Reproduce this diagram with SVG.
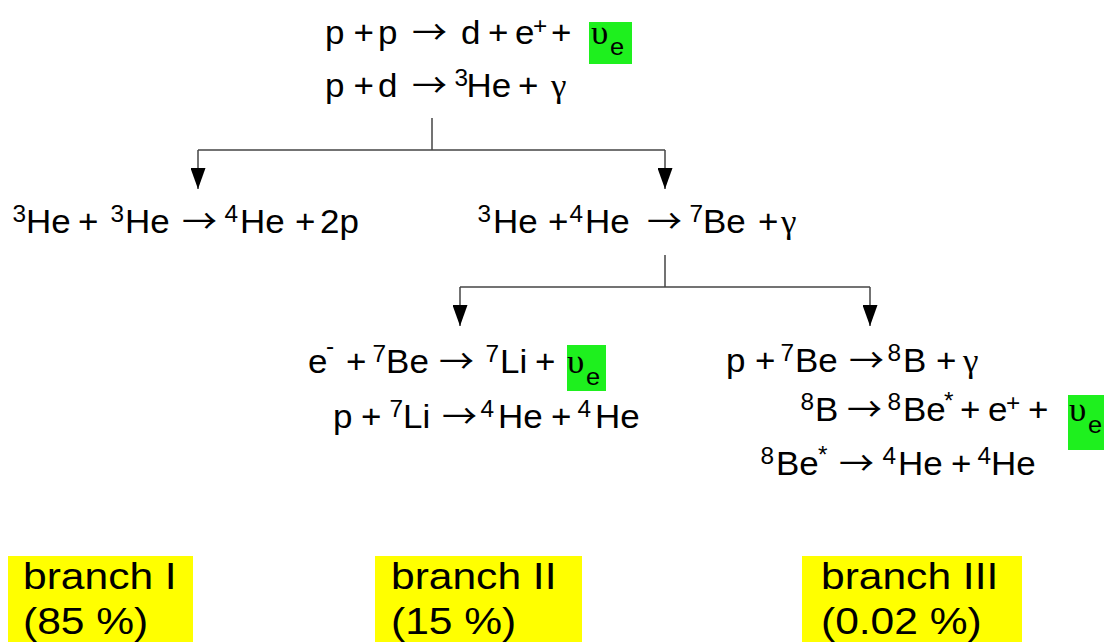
<svg xmlns="http://www.w3.org/2000/svg" width="1104" height="642" viewBox="0 0 1104 642">
<style>
  .eq { font-family: "Liberation Sans", Arial, sans-serif; font-size: 33px; fill: #000; }
  .sup { font-size: 23px; }
  .sub { font-size: 24px; }
  .ar { font-family: "Noto Sans CJK SC", "DejaVu Sans", sans-serif; }
  .gr { font-family: "Liberation Serif", "DejaVu Serif", serif; }
  .br { font-family: "Liberation Sans", Arial, sans-serif; font-size: 37px; fill: #000; }
  .nu { fill: #1ef01e; }
  .yl { fill: #ffff00; }
  .ln { fill: none; stroke: #444; stroke-width: 1.5; }
</style>
<defs>
  <marker id="ah" viewBox="0 0 21 15" markerWidth="21" markerHeight="15" refX="21" refY="7.5" orient="auto" markerUnits="userSpaceOnUse">
    <path d="M0,0 L21,7.5 L0,15 z" fill="#000"/>
  </marker>
</defs>
<rect width="1104" height="642" fill="#fff"/>

<g id="connectors">
  <path class="ln" d="M432,118 V150"/>
  <path class="ln" d="M198,150 H665"/>
  <path class="ln" d="M198,150 V189" marker-end="url(#ah)"/>
  <path class="ln" d="M665,150 V189" marker-end="url(#ah)"/>
  <path class="ln" d="M665,255 V287"/>
  <path class="ln" d="M460,287 H870"/>
  <path class="ln" d="M460,287 V326" marker-end="url(#ah)"/>
  <path class="ln" d="M870,287 V326" marker-end="url(#ah)"/>
</g>

<g id="node-pp">
  <rect class="nu" x="589" y="22" width="43" height="42"/>
  <text class="eq" transform="scale(1.06,1)">
    <tspan x="306.6" y="44">p</tspan><tspan x="333.5" y="44">+</tspan><tspan x="356.6" y="44">p</tspan><tspan class="ar" x="388.7" y="44">→</tspan><tspan x="434.9" y="44">d</tspan><tspan x="460.4" y="44">+</tspan><tspan x="485.8" y="44">e</tspan><tspan class="sup" x="502.8" y="34">+</tspan><tspan x="519.8" y="44">+</tspan><tspan class="gr" x="557.5" y="44">υ</tspan><tspan class="sub" x="575.5" y="55">e</tspan>
  </text>
  <text class="eq" transform="scale(1.06,1)">
    <tspan x="306.6" y="97">p</tspan><tspan x="333.5" y="97">+</tspan><tspan x="356.6" y="97">d</tspan><tspan class="ar" x="388.7" y="97">→</tspan><tspan class="sup" x="428.7" y="86">3</tspan><tspan x="440.1" y="97">He</tspan><tspan x="488.7" y="97">+</tspan><tspan class="gr" x="519.8" y="97">γ</tspan>
  </text>
</g>

<g id="node-he3he3">
  <text class="eq" transform="scale(1.06,1)">
    <tspan class="sup" x="11.8" y="222">3</tspan><tspan x="24.5" y="233">He</tspan><tspan x="73.6" y="233">+</tspan><tspan class="sup" x="104.2" y="222">3</tspan><tspan x="117.9" y="233">He</tspan><tspan class="ar" x="171.7" y="233">→</tspan><tspan class="sup" x="211.8" y="222">4</tspan><tspan x="226.4" y="233">He</tspan><tspan x="278.3" y="233">+</tspan><tspan x="301.9" y="233">2p</tspan>
  </text>
</g>

<g id="node-he3he4">
  <text class="eq" transform="scale(1.06,1)">
    <tspan class="sup" x="450.4" y="222">3</tspan><tspan x="465.1" y="233">He</tspan><tspan x="517" y="233">+</tspan><tspan class="sup" x="537.2" y="222">4</tspan><tspan x="551.9" y="233">He</tspan><tspan class="ar" x="610.4" y="233">→</tspan><tspan class="sup" x="650.4" y="222">7</tspan><tspan x="663.2" y="233">Be</tspan><tspan x="715.1" y="233">+</tspan><tspan class="gr" x="736.8" y="233">γ</tspan>
  </text>
</g>

<g id="node-be7">
  <rect class="nu" x="567" y="345" width="39" height="46"/>
  <text class="eq" transform="scale(1.06,1)">
    <tspan x="290.6" y="373">e</tspan><tspan class="sup" x="307.5" y="354">-</tspan><tspan x="326.4" y="373">+</tspan><tspan class="sup" x="351.4" y="362">7</tspan><tspan x="364.2" y="373">Be</tspan><tspan class="ar" x="414.2" y="373">→</tspan><tspan class="sup" x="458" y="362">7</tspan><tspan x="471.7" y="373">Li</tspan><tspan x="504.7" y="373">+</tspan><tspan class="gr" x="534.9" y="373">υ</tspan><tspan class="sub" x="552.8" y="385">e</tspan>
  </text>
  <text class="eq" transform="scale(1.06,1)">
    <tspan x="314.2" y="428">p</tspan><tspan x="340.6" y="428">+</tspan><tspan class="sup" x="367.4" y="417">7</tspan><tspan x="380.2" y="428">Li</tspan><tspan class="ar" x="417" y="428">→</tspan><tspan class="sup" x="453.3" y="417">4</tspan><tspan x="469.8" y="428">He</tspan><tspan x="519.8" y="428">+</tspan><tspan class="sup" x="544.8" y="417">4</tspan><tspan x="561.3" y="428">He</tspan>
  </text>
</g>

<g id="node-b8">
  <rect class="nu" x="1068" y="395" width="40" height="55"/>
  <text class="eq" transform="scale(1.06,1)">
    <tspan x="684.9" y="372">p</tspan><tspan x="712.3" y="372">+</tspan><tspan class="sup" x="736.3" y="361">7</tspan><tspan x="750" y="372">Be</tspan><tspan class="ar" x="800.9" y="372">→</tspan><tspan class="sup" x="837.2" y="361">8</tspan><tspan x="851.9" y="372">B</tspan><tspan x="883" y="372">+</tspan><tspan class="gr" x="908.5" y="372">γ</tspan>
  </text>
  <text class="eq" transform="scale(1.06,1)">
    <tspan class="sup" x="755.2" y="410">8</tspan><tspan x="768.9" y="421">B</tspan><tspan class="ar" x="799.1" y="421">→</tspan><tspan class="sup" x="837.2" y="410">8</tspan><tspan x="851.9" y="421">Be</tspan><tspan class="sup" x="890.6" y="409">*</tspan><tspan x="905.7" y="421">+</tspan><tspan x="932.1" y="421">e</tspan><tspan class="sup" x="949.1" y="411">+</tspan><tspan x="969.8" y="421">+</tspan><tspan class="gr" x="1008.5" y="421">υ</tspan><tspan class="sub" x="1026.4" y="433">e</tspan>
  </text>
  <text class="eq" transform="scale(1.06,1)">
    <tspan class="sup" x="717.4" y="464">8</tspan><tspan x="732.1" y="475">Be</tspan><tspan class="sup" x="771.7" y="463">*</tspan><tspan class="ar" x="791.5" y="475">→</tspan><tspan class="sup" x="832.5" y="464">4</tspan><tspan x="847.2" y="475">He</tspan><tspan x="897.2" y="475">+</tspan><tspan class="sup" x="922.1" y="464">4</tspan><tspan x="934.9" y="475">He</tspan>
  </text>
</g>

<g id="branch-1">
  <rect class="yl" x="8" y="556" width="185" height="86"/>
  <text class="br" transform="scale(1.15,1)"><tspan x="20" y="589">branch I</tspan><tspan x="20" y="634">(85 %)</tspan></text>
</g>
<g id="branch-2">
  <rect class="yl" x="375" y="556" width="207" height="86"/>
  <text class="br" transform="scale(1.15,1)"><tspan x="340" y="589">branch II</tspan><tspan x="340" y="634">(15 %)</tspan></text>
</g>
<g id="branch-3">
  <rect class="yl" x="802" y="556" width="220" height="86"/>
  <text class="br" transform="scale(1.15,1)"><tspan x="713.9" y="589">branch III</tspan><tspan x="713.9" y="634">(0.02 %)</tspan></text>
</g>
</svg>
